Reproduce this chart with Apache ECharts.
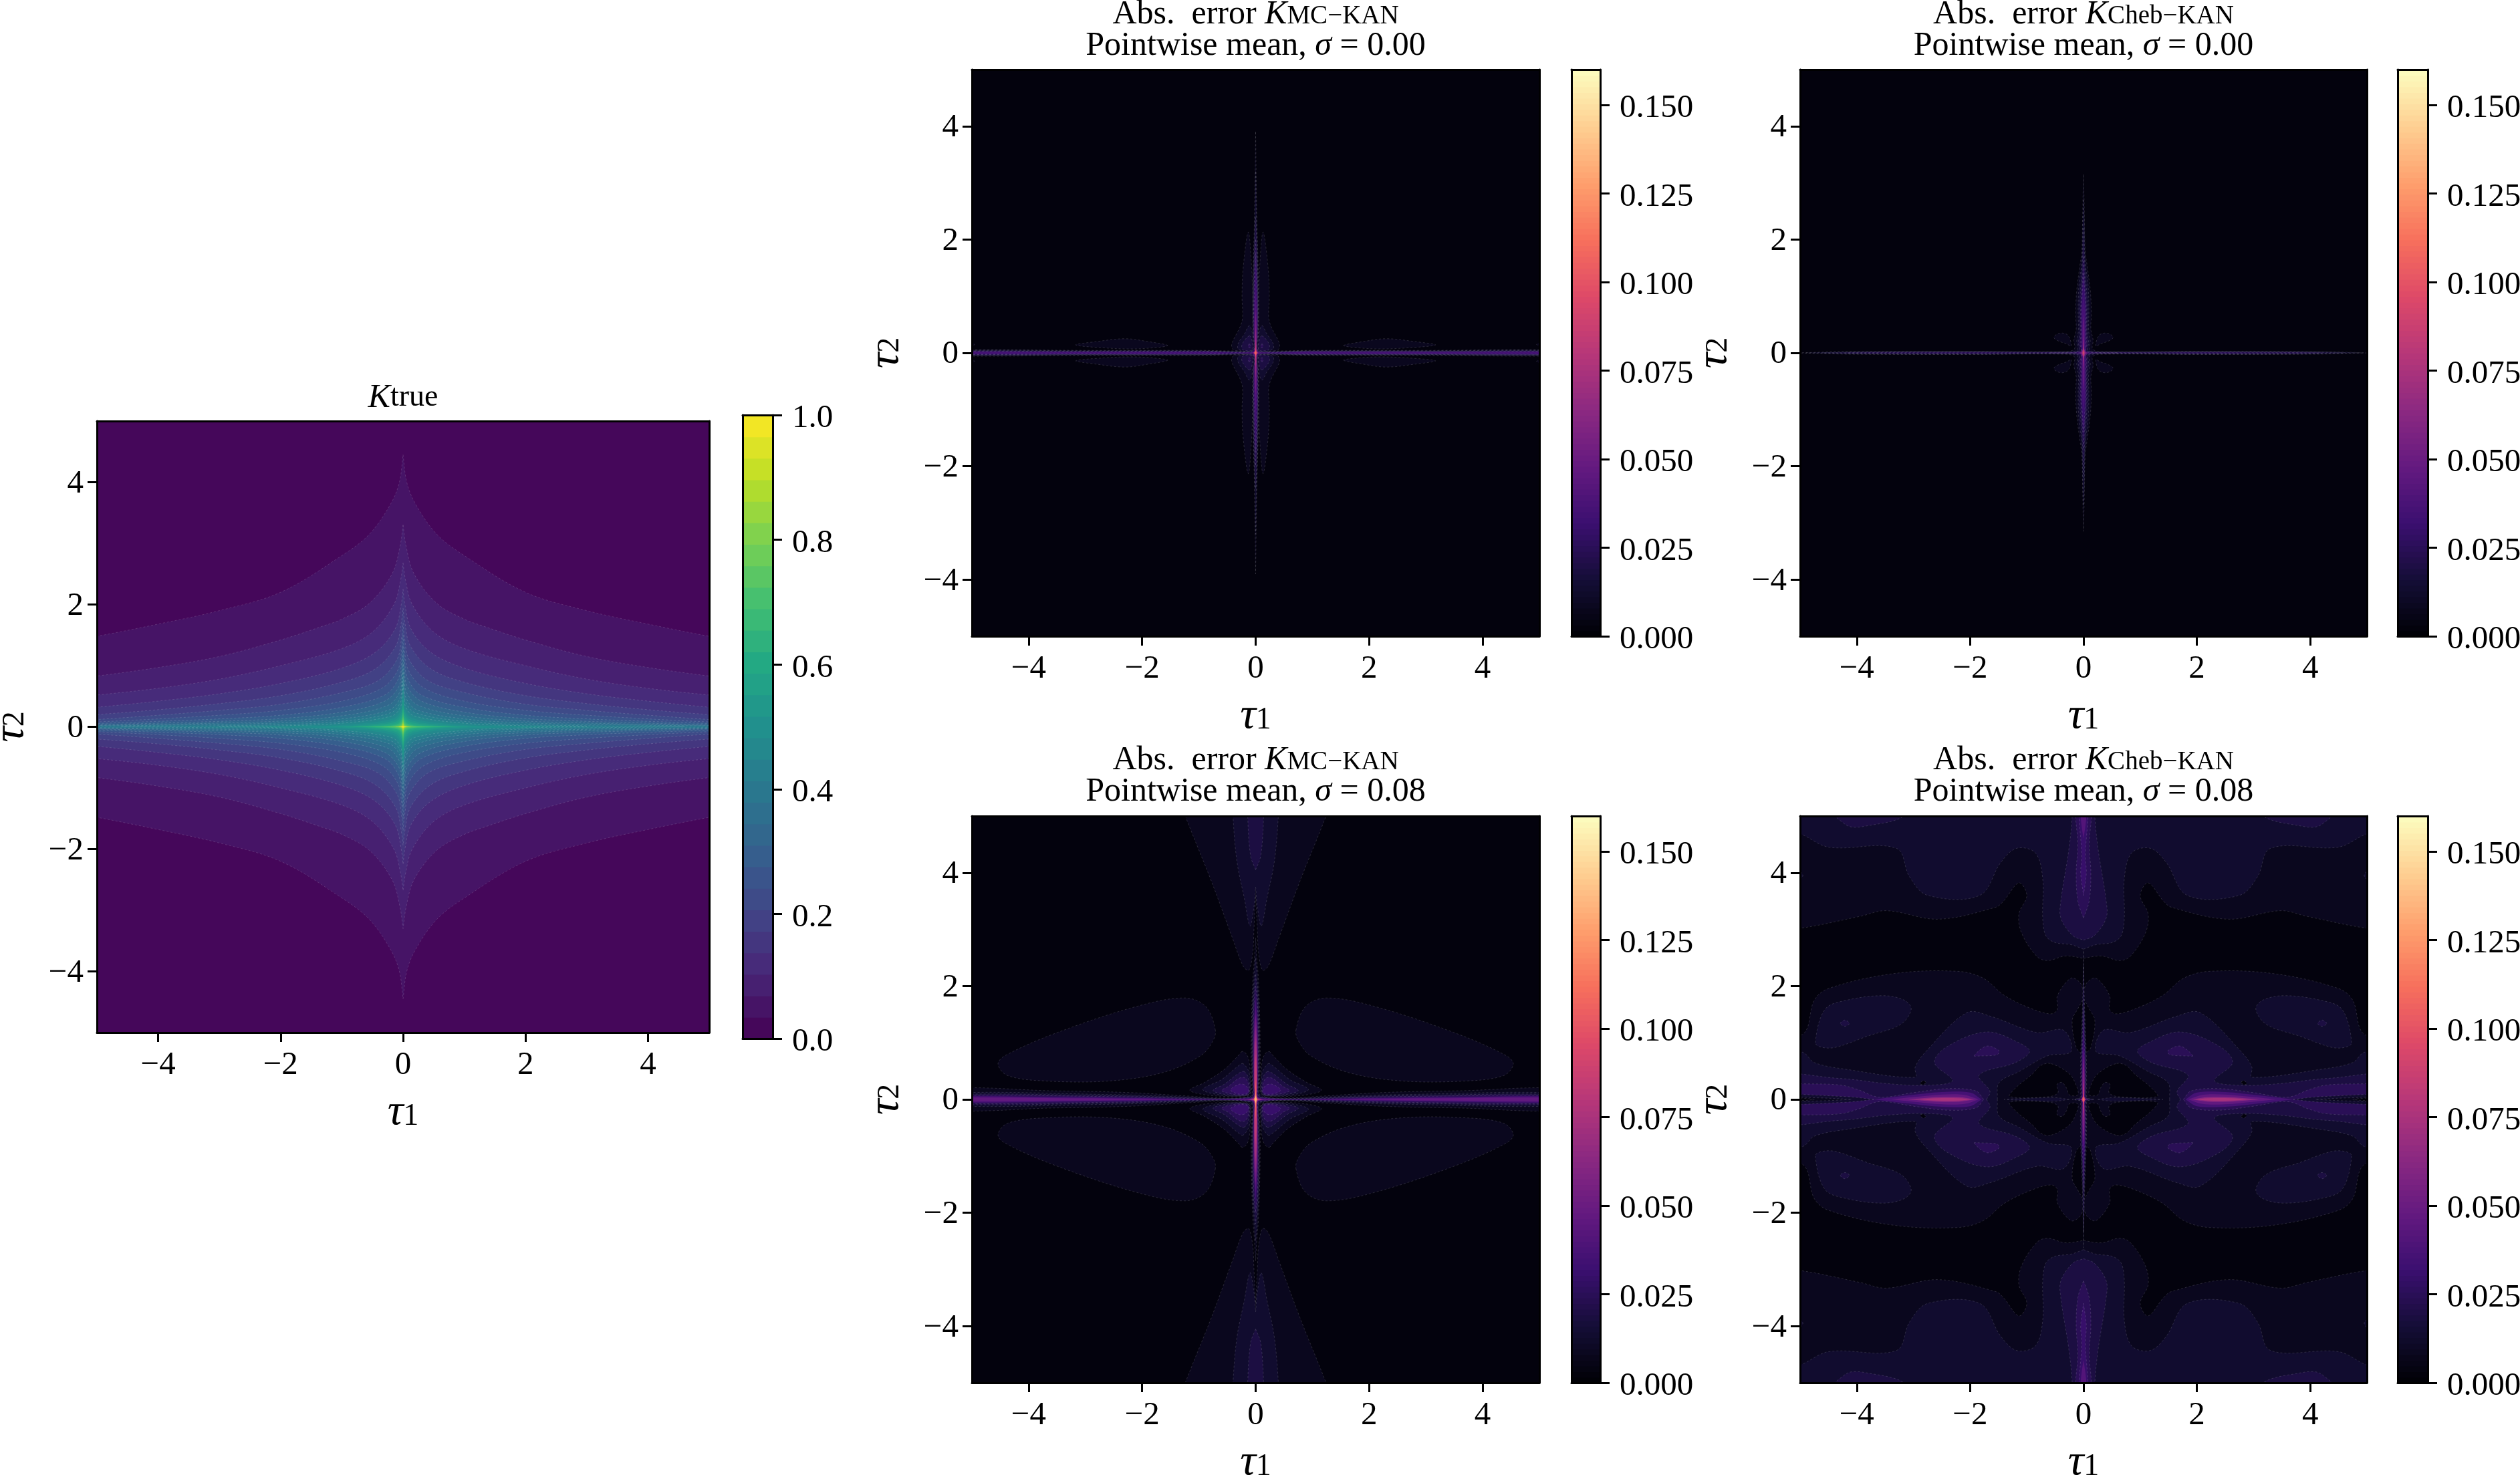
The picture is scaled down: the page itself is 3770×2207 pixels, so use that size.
<!DOCTYPE html>
<html>
<head>
<meta charset="utf-8">
<script src="https://cdn.jsdelivr.net/npm/echarts@6/dist/echarts.min.js"></script>
<style>html,body{margin:0;padding:0;background:#fff}#chart{width:3770px;height:2207px}</style>
</head>
<body>
<div id="chart"></div>
<script>
// Tick values shared by the panels
const tauTicks = [-4, -2, 0, 2, 4];
const kernelTicks = [0, 0.2, 0.4, 0.6, 0.8, 1.0];
const errorTicks = [0, 0.025, 0.05, 0.075, 0.1, 0.125, 0.15];
const kernelMax = 1;
const errorMax = 0.16;
const bandCount = 29;

const viridisStops = ['#440154','#482576','#414487','#35608d','#2a788e','#21908d','#22a884','#43bf71','#7ad151','#bddf26','#fde725'];
const magmaStops = ['#000004','#140e36','#3b0f70','#641a80','#8c2981','#b73779','#de4968','#f7705c','#fe9f6d','#fecf92','#fcfdbf'];

// K_true level curves, first quadrant, band 1 upward: [tau1, tau2]
const kTrueOutlines = [
  [[0,4.45],[.06,4.0],[.2,3.65],[.55,3.15],[1,2.8],[2,2.2],[3,1.9],[4,1.68],[5,1.48],[5.6,1.38]],
  [[0,3.3],[.05,2.95],[.18,2.5],[.55,2.02],[1,1.76],[1.3,1.65],[2,1.42],[3,1.15],[4,.97],[5,.83],[5.6,.76]],
  [[0,2.68],[.04,2.4],[.15,2.0],[.5,1.55],[1,1.28],[2,1.0],[3,.78],[4,.63],[5,.52],[5.6,.47]],
  [[0,2.25],[.03,2.0],[.13,1.6],[.45,1.22],[1,.96],[2,.71],[3,.54],[4,.42],[5,.32],[5.6,.27]],
  [[0,1.94],[.03,1.7],[.12,1.32],[.45,.95],[1,.73],[2,.51],[3,.38],[4,.28],[5,.2],[5.6,.16]],
  [[0,1.7],[.025,1.45],[.1,1.1],[.4,.76],[1,.56],[2,.37],[3,.27],[4,.19],[5,.12],[5.6,.09]],
  [[0,1.5],[.02,1.28],[.09,.92],[.35,.63],[1,.42],[2,.27],[3,.19],[4,.13],[5,.08],[5.6,.06]],
  [[0,1.32],[.02,1.1],[.08,.78],[.3,.52],[1,.32],[2,.19],[3,.13],[4,.09],[5,.055],[5.6,.042]],
  [[0,1.16],[.018,.95],[.07,.66],[.3,.42],[1,.24],[2,.135],[3,.09],[4,.06],[5,.035],[5.6,.027]],
  [[0,1.02],[.015,.82],[.06,.56],[.25,.35],[1,.18],[2,.095],[3,.062],[4,.04],[5,.024],[5.6,.018]],
  [[0,.9],[.012,.72],[.05,.47],[.22,.28],[1,.13],[2,.065],[3,.04],[4,.026],[5,.014],[5.6,.01]],
  [[0,.79],[.01,.62],[.045,.4],[.2,.23],[1,.09],[2,.036],[3,.017],[4,.006],[4.6,0]],
  [[0,.7],[.01,.54],[.04,.33],[.18,.18],[1,.06],[2,.016],[3,0]],
  [[0,.61],[.008,.46],[.035,.27],[.16,.14],[.8,.045],[1.6,.007],[2.3,0]],
  [[0,.53],[.007,.4],[.03,.23],[.14,.11],[.6,.035],[1.1,.006],[1.6,0]],
  [[0,.46],[.006,.34],[.026,.19],[.12,.085],[.5,.025],[.9,.004],[1.3,0]],
  [[0,.39],[.005,.29],[.022,.16],[.1,.065],[.4,.018],[.7,.004],[1.05,0]],
  [[0,.33],[.005,.24],[.02,.13],[.08,.05],[.3,.014],[.85,0]],
  [[0,.28],[.004,.2],[.017,.1],[.07,.04],[.25,.01],[.68,0]],
  [[0,.235],[.004,.165],[.015,.085],[.055,.03],[.2,.007],[.52,0]],
  [[0,.195],[.003,.135],[.012,.07],[.045,.024],[.15,.005],[.4,0]],
  [[0,.16],[.003,.11],[.01,.055],[.04,.018],[.12,.004],[.32,0]],
  [[0,.13],[.009,.045],[.03,.014],[.09,.003],[.25,0]],
  [[0,.105],[.007,.035],[.025,.011],[.07,.002],[.19,0]],
  [[0,.08],[.006,.027],[.02,.008],[.14,0]],
  [[0,.06],[.005,.02],[.015,.005],[.1,0]],
  [[0,.042],[.004,.013],[.07,0]],
  [[0,.028],[.003,.008],[.045,0]]
];

// MC-KAN, sigma 0.00: bands along the axes and closed lobes, as [band, points]
const mcCleanCross = [
  [1,[[0,3.9],[.012,3],[.025,2.2],[.045,1.5],[.052,.7],[.05,.15],[.06,.05],[.3,.035],[1,.045],[3,.045],[5.6,.045]]],
  [2,[[0,3.2],[.015,2.3],[.035,1.6],[.045,.7],[.045,.1],[.08,.035],[.4,.028],[1,.037],[3,.037],[5.6,.037]]],
  [3,[[0,2.4],[.02,1.9],[.035,1.2],[.04,.4],[.04,.06],[.2,.022],[.8,.03],[3,.03],[5.6,.03]]],
  [4,[[0,2.0],[.016,1.6],[.034,.9],[.036,.3],[.035,.05],[.25,.012],[.7,.024],[3,.024],[5.6,.024]]],
  [5,[[0,1.75],[.014,1.3],[.03,.7],[.032,.04],[.3,.008],[.7,.018],[3,.018],[5.6,.018]]],
  [6,[[0,1.5],[.012,1],[.026,.5],[.028,.03],[.35,.003],[.7,.012],[2,.014],[4,.013],[5.6,.01]]],
  [7,[[0,1.1],[.016,.7],[.024,.3],[.022,.02],[.1,.004],[.15,0]]],
  [9,[[0,.75],[.014,.45],[.018,.2],[.016,.015],[.07,0]]],
  [11,[[0,.45],[.012,.25],[.014,.1],[.012,.02],[.05,0]]],
  [13,[[0,.25],[.012,.1],[.012,.03],[.04,0]]],
  [15,[[0,.12],[.011,.05],[.03,0]]],
  [17,[[0,.07],[.01,.03],[.022,0]]],
  [19,[[0,.04],[.007,.015],[.014,0]]]
];
const mcCleanLobes = [
  [1,[[.05,.03],[.3,.03],[.4,.06],[.42,.16],[.27,.47],[.23,.63],[.24,1.0],[.22,1.5],[.13,2.13],[.07,1.5],[.055,1],[.05,.5]]],
  [1,[[1.55,.13],[1.9,.2],[2.3,.25],[2.8,.2],[3.17,.14],[2.7,.09],[2.2,.07],[1.8,.09]]],
  [1,[[5.3,.22],[4.95,.15],[5.3,.07]]],
  [2,[[.11,.48],[.2,.33],[.31,.16],[.3,.06],[.05,.04],[.05,.3]]],
  [3,[[.11,.3],[.235,.16],[.23,.06],[.06,.05],[.06,.2]]],
  [4,[[.11,.16],[.09,.1],[.12,.09],[.13,.13]]]
];

// Cheb-KAN, sigma 0.00
const chebCleanCross = [
  [1,[[0,3.15],[.015,2.5],[.03,1.8],[.07,1.5],[.12,1.1],[.14,.7],[.13,.42],[.17,.22],[.16,.07],[.3,.025],[2,.03],[4,.025],[5.1,0]]],
  [2,[[0,2.7],[.015,2.2],[.03,1.6],[.08,1.2],[.095,.75],[.09,.4],[.12,.2],[.11,.05],[.3,.018],[2,.024],[4,.018],[4.9,0]]],
  [3,[[0,2.2],[.02,1.6],[.06,1],[.07,.7],[.065,.35],[.09,.18],[.08,.04],[.4,.014],[2,.018],[4,.012],[4.6,0]]],
  [4,[[0,1.7],[.025,1.2],[.05,.8],[.05,.3],[.06,.15],[.05,.03],[.5,.008],[2,.012],[3.6,.006],[4.2,0]]],
  [5,[[0,1.4],[.025,1],[.038,.7],[.035,.25],[.04,.1],[.035,.02],[.25,.004],[.6,0]]],
  [6,[[0,1.05],[.022,.8],[.028,.5],[.025,.2],[.028,.08],[.025,.015],[.12,0]]],
  [8,[[0,.7],[.015,.45],[.016,.15],[.018,.06],[.07,0]]],
  [10,[[0,.3],[.012,.15],[.014,.05],[.045,0]]],
  [12,[[0,.16],[.01,.07],[.03,0]]],
  [14,[[0,.09],[.008,.035],[.018,0]]],
  [16,[[0,.05],[.006,.02],[.012,0]]]
];
const chebCleanLobes = [
  [1,[[.22,.12],[.24,.25],[.3,.33],[.4,.35],[.5,.31],[.52,.26],[.42,.2],[.3,.16]]]
];

// MC-KAN, sigma 0.08
const mcNoisyCross = [
  [1,[[0,2.85],[.02,2.5],[.05,2.1],[.075,1.3],[.08,.5],[.07,.2],[.13,.06],[.5,.025],[1.2,.06],[2.2,.12],[3.5,.15],[5.6,.165]]],
  [2,[[0,2.5],[.03,2.1],[.06,1.5],[.065,.5],[.055,.15],[.1,.05],[.55,.015],[1.3,.045],[2.5,.085],[5.6,.1]]],
  [3,[[0,2.2],[.035,1.8],[.05,1.2],[.05,.4],[.045,.1],[.09,.04],[.6,.012],[1.4,.035],[2.5,.065],[5.6,.075]]],
  [4,[[0,2],[.035,1.6],[.042,.9],[.04,.3],[.04,.07],[.08,.03],[.7,.008],[1.5,.025],[2.5,.05],[5.6,.06]]],
  [6,[[0,1.8],[.03,1.3],[.035,.6],[.034,.2],[.035,.05],[.07,.02],[.8,.005],[1.7,.017],[3,.035],[5.6,.045]]],
  [7,[[0,1.65],[.028,1.25],[.032,.5],[.03,.03],[.5,.003],[1.0,.003],[2,.014],[3.5,.028],[5.6,.035]]],
  [9,[[0,1.5],[.026,1.1],[.03,.5],[.028,.05],[.15,0]]],
  [11,[[0,1.3],[.024,.9],[.028,.4],[.024,.03],[.12,0]]],
  [13,[[0,1.1],[.02,.7],[.024,.25],[.02,.03],[.1,0]]],
  [15,[[0,.8],[.016,.45],[.02,.15],[.016,.02],[.07,0]]],
  [18,[[0,.35],[.012,.15],[.012,.05],[.035,0]]],
  [21,[[0,.15],[.01,.07],[.026,0]]],
  [24,[[0,.07],[.008,.03],[.016,0]]]
];
const mcNoisyLobes = [
  [1,[[.71,1.22],[.88,1.64],[1.25,1.79],[2.1,1.64],[3.52,1.17],[4.42,.77],[4.54,.62],[4.37,.42],[3.7,.325],[2.58,.325],[1.63,.475],[.97,.77],[.76,1.02]]],
  [1,[[.24,.845],[.30,.78],[.55,.53],[.9,.3],[1.16,.165],[.95,.09],[.6,.055],[.25,.055],[.1,.1],[.095,.4],[.12,.7],[.18,.82]]],
  [2,[[.22,.63],[.32,.58],[.6,.35],[.93,.177],[.7,.09],[.3,.06],[.11,.1],[.11,.45]]],
  [3,[[.2,.49],[.3,.46],[.55,.27],[.75,.157],[.55,.09],[.25,.065],[.12,.1],[.12,.35]]],
  [4,[[.19,.38],[.3,.37],[.48,.23],[.6,.157],[.45,.1],[.22,.075],[.13,.11],[.13,.28]]],
  [5,[[.2,.26],[.3,.265],[.44,.165],[.28,.09],[.13,.12],[.14,.2]]]
];
const mcNoisyFans = [
  [1,[[0,3.6],[.03,3],[.05,2.6],[.12,2.28],[.22,2.35],[.41,2.85],[.78,3.85],[1.24,5],[1.45,5.6],[0,5.6]]],
  [2,[[0,3.75],[.03,3.4],[.1,3.06],[.2,3.55],[.33,4.2],[.4,5],[.42,5.6],[0,5.6]]],
  [3,[[0,4.05],[.09,4.3],[.14,5],[.14,5.6],[0,5.6]]]
];
const mcNoisyWings = [
  [8,[[1.5,0],[3,.018],[5.6,.024]]]
];

// Cheb-KAN, sigma 0.08: first the widest band, then the dark pockets, then higher bands
const chebNoisyFansLow = [
  [1,[[0,2.49],[.32,2.53],[.63,2.45],[.82,2.52],[1.09,2.93],[1.14,3.27],[1.0,3.6],[1.14,3.82],[1.41,3.5],[1.55,3.39],[2.56,3.18],[3.48,3.33],[3.94,3.23],[5,3.02],[5.6,3.0],[5.6,5.6],[0,5.6]]]
];
const chebNoisyCrossLow = [
  [1,[[0,1.9],[.06,2.06],[.22,2.14],[.46,1.83],[.46,1.59],[.57,1.51],[.89,1.59],[1.39,1.83],[1.77,2.14],[2.22,2.26],[3.35,2.22],[4.49,1.96],[4.75,1.75],[4.94,1.16],[5.6,1.0]]]
];
const chebNoisyPocketCross = [
  [0,[[0,1.78],[.1,1.6],[.2,1.39],[.13,.92],[.03,.8],[0,.78]]]
];
const chebNoisyPocketLobes = [
  [0,[[.57,.63],[.25,.45],[.13,.25],[.1,.08],[.25,.08],[.3,.2],[.38,.3],[.47,.26],[.45,.12],[.6,.05],[1.3,.05],[1.2,.2],[.9,.45],[.75,.6]]]
];
const chebNoisyFans = [
  [2,[[0,2.65],[.22,2.73],[.51,2.77],[.665,2.89],[.72,3.2],[.72,3.9],[.85,4.35],[1.18,4.43],[1.46,4.18],[1.83,3.6],[2.75,3.6],[3.07,3.93],[3.3,4.43],[4.49,4.45],[4.98,4.68],[5.6,4.9],[5.6,5.6],[0,5.6]]],
  [3,[[0,2.81],[.19,2.89],[.4,3.2],[.4,3.5],[.26,4.4],[.2,5],[.2,5.6],[0,5.6]]],
  [4,[[0,3.2],[.1,3.5],[.13,4],[.1,4.5],[.14,5],[.14,5.6],[0,5.6]]],
  [5,[[0,3.6],[.05,4],[.03,4.3],[.08,5],[.08,5.6],[0,5.6]]],
  [7,[[0,4.6],[.03,4.8],[.05,5],[.05,5.6],[0,5.6]]]
];
const chebNoisyWings = [
  [2,[[1.52,0],[1.49,.295],[1.14,.49],[.63,.77],[.22,.845],[.35,1.22],[.82,1.18],[1.65,1.47],[2.06,1.53],[2.78,.845],[2.97,.57],[2.97,.39],[4.18,.53],[4.75,.65],[4.94,.825],[5.6,1.0]]],
  [3,[[1.71,0],[1.65,.14],[1.84,.43],[1.2,.65],[.95,.845],[1.14,1.0],[1.71,1.19],[2.41,.93],[2.63,.65],[2.31,.33],[2.75,.25],[3.42,.275],[4.3,.37],[5.6,.39]]],
  [4,[[1.76,0],[1.9,.15],[2.4,.19],[3.0,.12],[3.6,.04],[3.99,.177],[4.3,.255],[4.94,.275],[5.6,.28]]],
  [6,[[1.8,0],[2.0,.12],[2.5,.13],[3.1,.07],[3.7,0]]],
  [8,[[1.85,0],[2.1,.08],[2.5,.085],[3.0,.04],[3.4,0]]],
  [11,[[1.92,0],[2.2,.04],[2.55,.042],[2.85,.02],[3.1,0]]],
  [13,[[1.98,0],[2.2,.02],[2.6,.02],[2.9,0]]],
  [2,[[.25,0],[.5,.03],[1.2,.012],[1.4,0]]]
];
const chebNoisySlit = [
  [2,[[3.7,0],[4.2,.05],[5.6,.075]]],
  [1,[[4.1,0],[4.6,.025],[5.6,.04]]],
  [0,[[4.75,0],[4.95,.02],[5.6,.03]]]
];
const chebNoisyLobes = [
  [2,[[4.73,1.0],[4.56,1.59],[4.18,1.75],[3.54,1.83],[3.16,1.75],[3.04,1.59],[3.23,1.32],[3.8,1.12],[4.37,.92],[4.62,.92]]],
  [2,[[5.6,3.7],[4.95,3.95],[5.6,4.3]]],
  [3,[[4.29,1.34],[4.21,1.4],[4.13,1.34],[4.21,1.29]]],
  [3,[[4.85,5.6],[4.2,4.85],[3.8,4.83],[3.1,5.05],[3.0,5.6]]],
  [4,[[1.93,.77],[1.71,.94],[1.49,.86],[1.52,.79],[1.84,.766]]]
];
const chebNoisySpecks = [
  [0,[[2.78,.3],[2.83,.33],[2.88,.28],[2.83,.26]]]
];
const chebNoisyCross = [
  [2,[[0,2.62],[.01,2],[.03,1.3],[.05,.8],[.055,.3],[.06,.03],[.13,.012],[.2,0]]],
  [3,[[0,2.35],[.01,1.6],[.03,.9],[.04,.3],[.04,.03],[.1,.012],[.15,0]]],
  [5,[[0,1.6],[.012,1.1],[.028,.7],[.03,.25],[.03,.03],[.08,0]]],
  [7,[[0,.95],[.018,.7],[.022,.3],[.022,.02],[.06,0]]],
  [10,[[0,.78],[.015,.45],[.016,.15],[.014,.02],[.05,0]]],
  [13,[[0,.35],[.012,.15],[.012,.05],[.035,0]]],
  [16,[[0,.14],[.01,.05],[.026,0]]],
  [19,[[0,.06],[.007,.022],[.016,0]]]
];

// Geometry helpers: outlines are stored for tau1, tau2 >= 0 and reflected here
const reflect = (p, sx, sy) => p.map(([x, y]) => [x * sx, y * sy]);
const reversed = p => p.slice().reverse();
const cross = list => list.map(([b, p]) => ({ band: b, ring: [...p, ...reversed(reflect(p, 1, -1)), ...reflect(p, -1, -1), ...reversed(reflect(p, -1, 1))] }));
const lobes = list => list.flatMap(([b, p]) => [[1, 1], [-1, 1], [1, -1], [-1, -1]].map(([sx, sy]) => ({ band: b, ring: reflect(p, sx, sy) })));
const fans = list => list.flatMap(([b, p]) => {
  const ring = [...p, ...reversed(reflect(p, -1, 1))];
  return [{ band: b, ring }, { band: b, ring: reflect(ring, 1, -1) }];
});
const wings = list => list.flatMap(([b, p]) => {
  const ring = [...p, ...reversed(reflect(p, 1, -1))];
  return [{ band: b, ring }, { band: b, ring: reflect(ring, -1, 1) }];
});
const byBand = list => list.map((d, i) => [d, i]).sort((a, b) => a[0].band - b[0].band || a[1] - b[1]).map(d => d[0]);

const framePoly = { band: 0, ring: [[-5.5, -5.5], [5.5, -5.5], [5.5, 5.5], [-5.5, 5.5]], flat: true };

const panels = [
  { title: '{k|K}{t|true}', titleTop: 571, grid: [145, 630, 916, 915], bar: [1111, 621, 45, 933], barSteps: 29, seamBand: 13, stops: viridisStops, max: kernelMax, ticks: kernelTicks, digits: 1,
    polys: [framePoly, ...cross(kTrueOutlines.map((p, i) => [i + 1, p]))] },
  { title: '{r|Abs.\u2002error }{k|K}{s|MC−KAN}\n{r|Pointwise mean, }{k|σ}{r| = 0.00}', titleTop: -3, grid: [1454, 104, 849, 848], bar: [2351, 104, 43, 848], barSteps: 100, seamBand: 5, stops: magmaStops, max: errorMax, ticks: errorTicks, digits: 3,
    polys: [framePoly, ...byBand([...lobes(mcCleanLobes), ...cross(mcCleanCross)])] },
  { title: '{r|Abs.\u2002error }{k|K}{s|Cheb−KAN}\n{r|Pointwise mean, }{k|σ}{r| = 0.00}', titleTop: -3, grid: [2693, 104, 848, 848], bar: [3587, 104, 45, 848], barSteps: 100, seamBand: 5, stops: magmaStops, max: errorMax, ticks: errorTicks, digits: 3,
    polys: [framePoly, ...byBand([...lobes(chebCleanLobes), ...cross(chebCleanCross)])] },
  { title: '{r|Abs.\u2002error }{k|K}{s|MC−KAN}\n{r|Pointwise mean, }{k|σ}{r| = 0.08}', titleTop: 1113, grid: [1454, 1221, 849, 848], bar: [2351, 1221, 43, 848], barSteps: 100, seamBand: 5, stops: magmaStops, max: errorMax, ticks: errorTicks, digits: 3,
    polys: [framePoly, ...byBand([...lobes(mcNoisyLobes), ...fans(mcNoisyFans), ...wings(mcNoisyWings), ...cross(mcNoisyCross)])] },
  { title: '{r|Abs.\u2002error }{k|K}{s|Cheb−KAN}\n{r|Pointwise mean, }{k|σ}{r| = 0.08}', titleTop: 1113, grid: [2693, 1221, 848, 848], bar: [3587, 1221, 45, 848], barSteps: 100, seamBand: 5, stops: magmaStops, max: errorMax, ticks: errorTicks, digits: 3,
    polys: [framePoly, ...fans(chebNoisyFansLow), ...cross(chebNoisyCrossLow), ...cross(chebNoisyPocketCross), ...lobes(chebNoisyPocketLobes),
      ...byBand([...fans(chebNoisyFans), ...wings(chebNoisyWings), ...lobes(chebNoisyLobes), ...cross(chebNoisyCross)]),
      ...wings(chebNoisySlit), ...lobes(chebNoisySpecks)] }
];

const serif = 'Liberation Serif';
const tickFont = 49;
const titleRich = {
  r: { fontFamily: serif, fontSize: 50, fontWeight: 'normal', lineHeight: 47, verticalAlign: 'top', color: '#000' },
  k: { fontFamily: serif, fontSize: 50, fontStyle: 'italic', fontWeight: 'normal', lineHeight: 47, verticalAlign: 'top', color: '#000' },
  s: { fontFamily: serif, fontSize: 39, fontWeight: 'normal', lineHeight: 24, verticalAlign: 'bottom', color: '#000' },
  t: { fontFamily: serif, fontSize: 46, fontWeight: 'normal', lineHeight: 26, verticalAlign: 'bottom', color: '#000' }
};
const nameRich = {
  k: { fontFamily: serif, fontSize: 66, fontStyle: 'italic', lineHeight: 62, verticalAlign: 'top', color: '#000' },
  s: { fontFamily: serif, fontSize: 46, lineHeight: 30, verticalAlign: 'bottom', color: '#000' }
};
const axisName = n => `{k|τ}{s|${n}}`;
const minusSign = s => String(s).replace('-', '−');
const spine = { onZero: false, lineStyle: { color: '#000', width: 3 } };
const noTicks = { show: false };

const option = { animation: false, backgroundColor: '#fff', title: [], grid: [], xAxis: [], yAxis: [], series: [] };

function addAxes(gridIndex, x, y) {
  const xi = option.xAxis.length, yi = option.yAxis.length;
  option.grid.push({ left: x.rect[0], top: x.rect[1], width: x.rect[2], height: x.rect[3], outerBoundsMode: 'none' });
  const common = { gridIndex, type: 'value', z: 6, splitLine: noTicks, axisLine: spine };
  option.xAxis.push({ ...common, position: 'bottom', ...x.main }, { ...common, position: 'top', min: x.main.min, max: x.main.max, axisTick: noTicks, axisLabel: noTicks });
  option.yAxis.push({ ...common, position: y.side, ...y.main }, { ...common, position: y.side === 'left' ? 'right' : 'left', min: y.main.min, max: y.main.max, axisTick: noTicks, axisLabel: noTicks });
  return [xi, yi];
}

const tickStyle = { show: true, length: 14, lineStyle: { color: '#000', width: 3 } };
const tauAxis = (n, gap, labelExtra) => ({
  min: -5, max: 5,
  name: axisName(n), nameLocation: 'middle', nameGap: gap,
  nameTextStyle: { rich: nameRich },
  axisTick: { ...tickStyle, customValues: tauTicks },
  axisLabel: { show: true, customValues: tauTicks, fontFamily: serif, fontSize: tickFont, color: '#000', formatter: minusSign, ...labelExtra }
});

panels.forEach(panel => {
  const [gl, gt, gw, gh] = panel.grid;
  option.title.push({
    text: panel.title, left: gl + gw / 2, top: panel.titleTop, textAlign: 'center',
    padding: 0, textStyle: { fontWeight: 'normal', rich: titleRich }
  });

  const plotGrid = option.grid.length;
  const [xi, yi] = addAxes(plotGrid,
    { rect: panel.grid, main: tauAxis(1, 87, { margin: 25 }) },
    { side: 'left', main: tauAxis(2, 99, { margin: 20, verticalAlign: 'top', padding: [-22, 0, 0, 0] }) });
  const polys = panel.polys;
  option.series.push({
    type: 'custom', coordinateSystem: 'cartesian2d', xAxisIndex: xi, yAxisIndex: yi, clip: true, silent: true,
    data: polys.map((d, i) => [d.band, i]),
    renderItem(params, api) {
      const d = polys[params.dataIndex];
      return {
        type: 'polygon',
        shape: { points: d.ring.map(p => api.coord(p)), smooth: d.flat ? 0 : 0.35 },
        style: {
          fill: echarts.color.lerp((d.band + 0.5) / bandCount, panel.stops),
          stroke: d.flat || d.band > panel.seamBand ? null : 'rgba(255,255,255,0.14)', lineWidth: 1, lineDash: [3, 3]
        }
      };
    }
  });

  // Colour bar: one rectangle per colour step on its own value axis
  const barGrid = option.grid.length;
  const fmt = v => Number(v).toFixed(panel.digits);
  const [bx, by] = addAxes(barGrid, { rect: panel.bar, main: { min: 0, max: 1, axisTick: noTicks, axisLabel: noTicks } }, {
    side: 'right',
    main: { min: 0, max: panel.max,
      axisTick: { ...tickStyle, customValues: panel.ticks },
      axisLabel: { show: true, customValues: panel.ticks, margin: 29, verticalAlign: 'top', padding: [-19, 0, 0, 0], fontFamily: serif, fontSize: tickFont, color: '#000', formatter: fmt } }
  });
  const steps = panel.barSteps;
  const bands = Array.from({ length: steps }, (_, i) => i);
  option.series.push({
    type: 'custom', coordinateSystem: 'cartesian2d', xAxisIndex: bx, yAxisIndex: by, clip: true, silent: true,
    data: bands.map(i => [0.5, (i + 0.5) * panel.max / steps]),
    renderItem(params, api) {
      const i = params.dataIndex;
      const a = api.coord([0, i * panel.max / steps]);
      const b = api.coord([1, (i + 1) * panel.max / steps]);
      return {
        type: 'rect',
        shape: { x: a[0], y: b[1], width: b[0] - a[0], height: a[1] - b[1] + 1 },
        style: { fill: echarts.color.lerp((i + 0.5) / steps, panel.stops) }
      };
    }
  });
});

const chart = echarts.init(document.getElementById('chart'), null, { renderer: 'canvas' });
chart.setOption(option);
</script>
</body>
</html>
